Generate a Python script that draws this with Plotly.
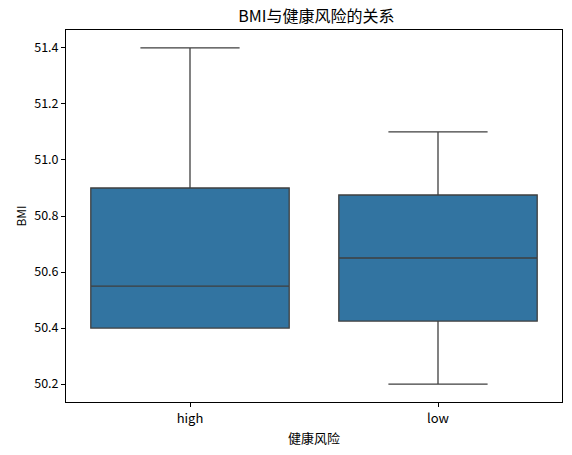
import plotly.graph_objects as go

categories = ["high", "low"]
lower = [50.4, 50.2]
q1 = [50.4, 50.425]
median = [50.55, 50.65]
q3 = [50.9, 50.875]
upper = [51.4, 51.1]

yticks = [50.2, 50.4, 50.6, 50.8, 51.0, 51.2, 51.4]

font_family = "Noto Sans CJK SC, DejaVu Sans, sans-serif"

fig = go.Figure()
fig.add_trace(go.Box(
    x=categories, q1=q1, median=median, q3=q3,
    lowerfence=lower, upperfence=upper,
    fillcolor="#3274a1",
    line=dict(color="#3f3f3f", width=1.3),
    whiskerwidth=0.5, width=0.8,
    boxpoints=False, showlegend=False,
))

fig.update_layout(
    width=572, height=455,
    margin=dict(l=66, r=10, t=30, b=53),
    paper_bgcolor="white", plot_bgcolor="white",
    font=dict(family=font_family, size=12, color="black"),
    title=dict(text="BMI与健康风险的关系", x=0.553, xanchor="center", y=0.964, yanchor="middle",
               font=dict(size=16, color="black")),
    xaxis=dict(
        title=dict(text="健康风险", standoff=8, font=dict(size=13)),
        range=[-0.5, 1.5], showline=True, linecolor="black", linewidth=1, mirror=True,
        ticks="outside", ticklen=4, tickcolor="black", showgrid=False, zeroline=False,
        tickfont=dict(size=13),
    ),
    yaxis=dict(
        title=dict(text="BMI", standoff=5, font=dict(size=12)),
        range=[50.136, 51.464], tickvals=yticks, tickformat=".1f",
        showline=True, linecolor="black", linewidth=1, mirror=True,
        ticks="outside", ticklen=4, tickcolor="black", showgrid=False, zeroline=False,
        tickfont=dict(size=12.5),
    ),
)

fig.write_html("out.html")
